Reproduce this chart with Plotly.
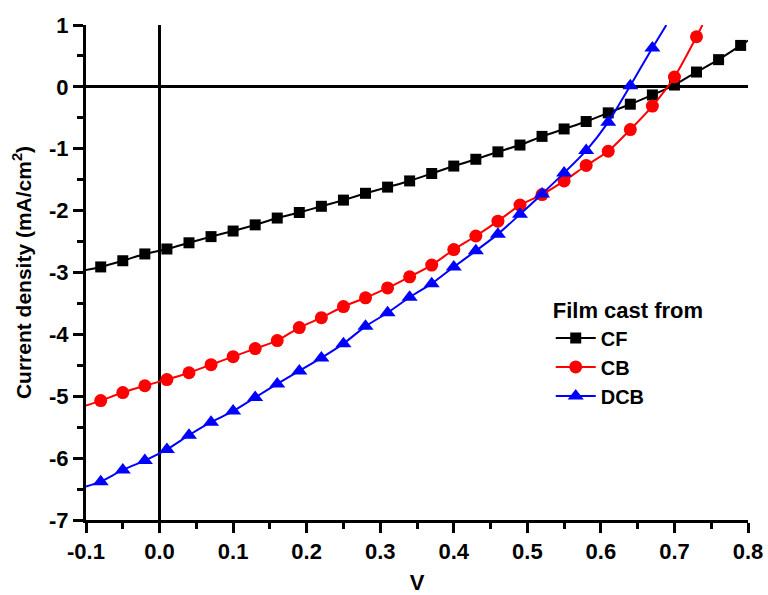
import plotly.graph_objects as go

# ---- data ----
v_markers = [-0.08, -0.05, -0.02, 0.01, 0.04, 0.07, 0.10, 0.13, 0.16, 0.19, 0.22, 0.25,
             0.28, 0.31, 0.34, 0.37, 0.40, 0.43, 0.46, 0.49, 0.52, 0.55, 0.58, 0.61,
             0.64, 0.67, 0.70, 0.73, 0.76, 0.79]

cf_j = [-2.91, -2.81, -2.70, -2.62, -2.52, -2.42, -2.33, -2.23, -2.12, -2.03, -1.93, -1.83,
        -1.72, -1.62, -1.52, -1.40, -1.28, -1.17, -1.05, -0.94, -0.80, -0.68, -0.56, -0.42,
        -0.28, -0.13, 0.03, 0.24, 0.44, 0.67]
cf_start = (-0.10, -2.96)
cf_end = (0.80, 0.75)

cb_v = v_markers[:28]
cb_j = [-5.07, -4.94, -4.83, -4.73, -4.62, -4.49, -4.36, -4.23, -4.10, -3.89, -3.73, -3.55,
        -3.41, -3.25, -3.07, -2.88, -2.63, -2.41, -2.17, -1.91, -1.74, -1.52, -1.27, -1.04,
        -0.69, -0.31, 0.16, 0.81]
cb_start = (-0.10, -5.15)
cb_end = (0.738, 1.0)

dcb_v = v_markers[:26]
dcb_j = [-6.38, -6.19, -6.04, -5.86, -5.63, -5.42, -5.24, -5.02, -4.80, -4.59, -4.38, -4.15,
         -3.87, -3.65, -3.40, -3.18, -2.91, -2.65, -2.38, -2.06, -1.73, -1.39, -1.03, -0.57,
         0.02, 0.63]
dcb_start = (-0.10, -6.46)
dcb_end = (0.689, 1.0)

x_ticks = [-0.1, 0.0, 0.1, 0.2, 0.3, 0.4, 0.5, 0.6, 0.7, 0.8]
x_ticktext = ["-0.1", "0.0", "0.1", "0.2", "0.3", "0.4", "0.5", "0.6", "0.7", "0.8"]
y_ticks = [1, 0, -1, -2, -3, -4, -5, -6, -7]
y_ticktext = ["1", "0", "-1", "-2", "-3", "-4", "-5", "-6", "-7"]

FONT = "Liberation Sans"
FS = 22

series = [
    ("CF", v_markers, cf_j, cf_start, cf_end, "black", "square", 11),
    ("CB", cb_v, cb_j, cb_start, cb_end, "red", "circle", 13),
    ("DCB", dcb_v, dcb_j, dcb_start, dcb_end, "blue", "triangle-up", 14),
]

fig = go.Figure()
for name, xv, yv, st, en, col, sym, ms in series:
    xs = [st[0]] + list(xv) + [en[0]]
    ys = [st[1]] + list(yv) + [en[1]]
    fig.add_trace(go.Scatter(x=xs, y=ys, mode="lines",
                             line=dict(color=col, width=2, shape="spline", smoothing=0.6),
                             showlegend=False, hoverinfo="skip"))
    fig.add_trace(go.Scatter(x=xv, y=yv, mode="markers",
                             marker=dict(symbol=sym, size=ms, color=col, line=dict(width=0)),
                             showlegend=False, cliponaxis=False))
    fig.add_trace(go.Scatter(x=[None], y=[None], mode="lines+markers", name=name,
                             line=dict(color=col, width=2),
                             marker=dict(symbol=sym, size=ms, color=col)))

axis_common = dict(
    showline=True, linecolor="black", linewidth=3, mirror=False,
    ticks="outside", ticklen=10, tickwidth=3, tickcolor="black",
    showgrid=False, zeroline=True, zerolinecolor="black", zerolinewidth=3,
    tickfont=dict(family=FONT, size=FS, color="black", weight="bold"),
    automargin=False,
)

fig.update_xaxes(**axis_common, range=[-0.1, 0.8], tickvals=x_ticks, ticktext=x_ticktext,
                 minor=dict(ticks="outside", ticklen=6, tickwidth=3, tickcolor="black", dtick=0.05, tick0=-0.1),
                 title=dict(text="V", font=dict(family=FONT, size=FS, color="black", weight="bold"), standoff=20))
fig.update_yaxes(**axis_common, range=[-7, 1], tickvals=y_ticks, ticktext=y_ticktext,
                 minor=dict(ticks="outside", ticklen=6, tickwidth=3, tickcolor="black", dtick=0.5, tick0=0),
                 title=dict(text="Current density (mA/cm<sup>2</sup>)",
                            font=dict(family=FONT, size=FS - 1, color="black", weight="bold"), standoff=12))

fig.update_layout(
    width=768, height=595,
    margin=dict(l=86, r=20, t=25, b=75),
    plot_bgcolor="white", paper_bgcolor="white",
    font=dict(family=FONT, size=FS, color="black"),
    legend=dict(
        title=dict(text="Film cast from", font=dict(family=FONT, size=FS, color="black", weight="bold")),
        font=dict(family=FONT, size=20, color="black", weight="bold"),
        x=0.702, y=0.465, xanchor="left", yanchor="top",
        bgcolor="rgba(0,0,0,0)", tracegroupgap=0, itemwidth=40,
    ),
)

fig.write_html("out.html")
